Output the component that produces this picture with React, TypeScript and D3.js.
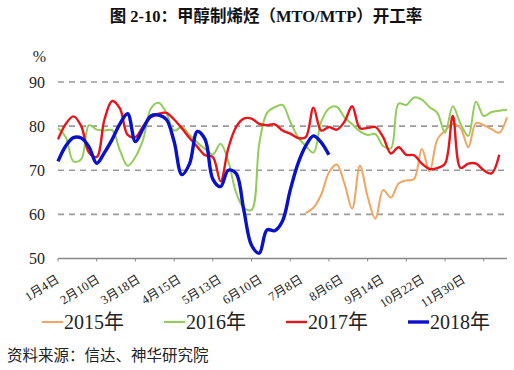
import * as d3 from 'd3';

// ── Data (one value per category step) ──

const X_LABELS = ['1月4日', '2月10日', '3月18日', '4月15日', '5月13日', '6月10日', '7月8日', '8月6日', '9月14日', '10月22日', '11月30日'];
const Y_TICKS = [50, 60, 70, 80, 90];
const LABEL_STEP = 5;

const S2015: (number | null)[] = [
  ...Array(32).fill(null),
  60.3, 61.5, 64.5, 69.5, 71.3, 67, 61.3, 71, 64, 59, 65.5, 63.8, 67, 67.7, 68, 74.8, 69.8, 77, 79, 80.5,
  79.5, 75.2, 80.7, 80.2, 79.3, 78.5, 82,
];
const S2016 = [
  79.5, 77.5, 72, 72.5, 80.2, 79.2, 79, 79.1, 74.5, 71, 73, 77, 84, 85.3, 83, 79, 79.8, 78, 76.3, 74.8,
  73.6, 76, 72, 65, 61.5, 61, 76, 83, 84.3, 84.8, 81, 77.5, 75.5, 74, 81, 84, 84.4, 82, 80.4, 78.8,
  78, 78.2, 75.5, 75, 85.1, 84.8, 86.5, 86, 84.3, 83, 78.5, 84.5, 80.5, 77.8, 85.5, 82.3, 83.2, 83.5, 83.7,
];
const S2017 = [
  77, 80.5, 82.2, 80, 74, 73, 81.5, 85.7, 84, 78, 77.5, 80, 82, 82.8, 83, 81.5, 79.5, 77.3, 75.3, 73.4,
  73, 67.5, 75, 79.8, 81.7, 81.7, 80.5, 80.2, 80.4, 79, 78.3, 77.3, 77.5, 84.2, 79, 79.8, 79.2, 81, 84.5, 79.5,
  79.6, 79.8, 77.5, 73.8, 75.2, 73.5, 73.4, 71.5, 70.3, 70.5, 71.5, 82.3, 70.5, 71.5, 71.5, 70, 69.3, 73.5,
];
const S2018 = [
  72, 75.5, 77.4, 77.3, 75.3, 71.6, 74, 77, 80.5, 82.8, 76.5, 79.5, 82.3, 82.5, 81.5, 76.5, 69, 71.5, 78.8, 77,
  68, 66.3, 70, 69.3, 61, 53, 51.2, 56.5, 56.3, 58.5, 65.5, 71.5, 75.5, 77.8, 76.3, 73.5,
];

const SERIES = [
  { name: '2015年', values: S2015, color: '#F2A461', width: 2 },
  { name: '2016年', values: S2016, color: '#92CD5A', width: 2 },
  { name: '2017年', values: S2017, color: '#E8141B', width: 2.4 },
  { name: '2018年', values: S2018, color: '#0A12C8', width: 3.4 },
];

const W = 514;
const H = 370;
const SERIF = '"Liberation Serif", "Times New Roman", "Noto Sans CJK SC", serif';
const CJK = '"Noto Sans CJK SC", sans-serif';

export default function App() {
  const x = d3.scaleLinear().domain([0, 58]).range([58, 507]);
  const y = d3.scaleLinear().domain([50, 90]).range([258.5, 82]);
  // labels in the source sit on a slightly wider pitch than the tick marks
  const xl = d3.scalePoint<string>().domain(X_LABELS).range([60, 466]);

  const line = d3
    .line<number | null>()
    .defined((d) => d != null)
    .x((_, i) => x(i))
    .y((d) => y(d as number))
    .curve(d3.curveCatmullRom.alpha(0.5));

  const tickIdx = d3.range(0, 56, LABEL_STEP);

  return (
    <svg width={W} height={H} style={{ position: 'absolute', left: 0, top: 0, background: '#fff' }}>
      {/* title */}
      <text x={266} y={21.5} textAnchor="middle" fontSize={16.5} fontWeight={700} fontFamily={`"Liberation Serif", ${CJK}`} fill="#111">
        图 2-10：甲醇制烯烃（MTO/MTP）开工率
      </text>

      {/* gridlines */}
      {Y_TICKS.filter((t) => t > 50).map((t) => (
        <line key={t} x1={58} x2={505} y1={y(t)} y2={y(t)} stroke="#9a9a9a" strokeWidth={1.6} strokeDasharray="6 5" />
      ))}

      {/* y labels */}
      <text x={46} y={62} textAnchor="end" fontSize={16} fontFamily={SERIF} fill="#222">%</text>
      {Y_TICKS.map((t) => (
        <text key={t} x={45} y={y(t) + 5.5} textAnchor="end" fontSize={16} fontFamily={SERIF} fill="#222">
          {t}
        </text>
      ))}

      {/* x axis */}
      <line x1={58} x2={507} y1={y(50)} y2={y(50)} stroke="#888" strokeWidth={1.6} />
      {tickIdx.map((i) => (
        <line key={i} x1={x(i)} x2={x(i)} y1={y(50)} y2={y(50) + 3} stroke="#888" strokeWidth={1} />
      ))}
      {X_LABELS.map((l) => (
        <text
          key={l}
          transform={`translate(${xl(l)},${y(50) + 23}) rotate(-32)`}
          textAnchor="end"
          fontSize={12.5}
          fontFamily={SERIF}
          fill="#222"
        >
          {l}
        </text>
      ))}

      {/* series */}
      {SERIES.map((s) => (
        <path key={s.name} d={line(s.values) ?? ''} fill="none" stroke={s.color} strokeWidth={s.width} strokeLinejoin="round" />
      ))}

      {/* legend */}
      {SERIES.map((s, k) => {
        const lx = 42 + k * 122;
        return (
          <g key={s.name}>
            <line x1={lx} x2={lx + 21} y1={322} y2={322} stroke={s.color} strokeWidth={s.width} />
            <text x={lx + 22} y={329} fontSize={20} fontFamily={SERIF} fill="#222">
              {s.name}
            </text>
          </g>
        );
      })}

      {/* source */}
      <text x={7} y={361} fontSize={15.5} fontFamily={CJK} fill="#222">
        资料来源：信达、神华研究院
      </text>
    </svg>
  );
}
